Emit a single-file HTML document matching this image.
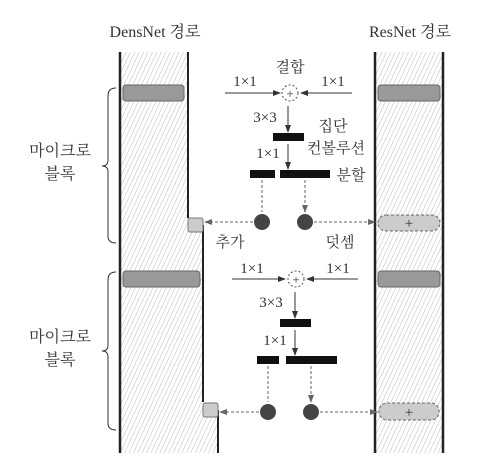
<!DOCTYPE html>
<html><head><meta charset="utf-8"><style>
body{margin:0;background:#fff}
svg{display:block;font-family:"Liberation Serif","Noto Serif CJK SC","Noto Sans CJK KR",serif}
text{fill:#333}
</style></head><body>
<svg width="485" height="469" viewBox="0 0 485 469">
<defs>
<pattern id="h" width="4" height="4" patternUnits="userSpaceOnUse" patternTransform="rotate(25)">
<line x1="0" y1="0" x2="0" y2="4" stroke="#aaa" stroke-width="0.8"/></pattern>
<marker id="a" markerWidth="8" markerHeight="8" refX="7" refY="4" orient="auto" markerUnits="userSpaceOnUse"><path d="M0,1 L8,4 L0,7z" fill="#333"/></marker>
<marker id="g" markerWidth="8" markerHeight="8" refX="7" refY="4" orient="auto" markerUnits="userSpaceOnUse"><path d="M0,1 L8,4 L0,7z" fill="#666"/></marker>
</defs>
<text x="155" y="37" font-size="16" text-anchor="middle">DensNet 경로</text>
<text x="410" y="37" font-size="16" text-anchor="middle">ResNet 경로</text>
<g>
<path d="M120,52 L188,52 L188,218 L203,218 L203,402 L218,402 L218,453 L120,453z" fill="url(#h)"/>
<line x1="120" y1="52" x2="120" y2="453" stroke="#222" stroke-width="2.5"/>
<path d="M188,52 L188,218 M203,225 L203,402 M218,410 L218,453" stroke="#222" stroke-width="2" fill="none"/>
<rect x="188" y="218" width="15" height="14" rx="2" fill="#ccc" stroke="#777"/>
<rect x="203" y="403" width="15" height="14" rx="2" fill="#ccc" stroke="#777"/>
<rect x="123" y="85" width="61" height="16" rx="3" fill="#999" stroke="#666"/>
<rect x="123" y="271" width="77" height="16" rx="3" fill="#999" stroke="#666"/>
</g>
<g>
<rect x="375" y="52" width="68" height="401" fill="url(#h)"/>
<line x1="375" y1="52" x2="375" y2="453" stroke="#222" stroke-width="2.5"/>
<line x1="443" y1="52" x2="443" y2="453" stroke="#222" stroke-width="2.5"/>
<rect x="378" y="85" width="62" height="16" rx="3" fill="#999" stroke="#666"/>
<rect x="378" y="271" width="62" height="16" rx="3" fill="#999" stroke="#666"/>
<rect x="378" y="215" width="62" height="16" rx="8" fill="#ccc" stroke="#666" stroke-dasharray="3,2"/>
<text x="409" y="228" font-size="15" text-anchor="middle">+</text>
<rect x="379" y="403" width="60" height="17" rx="8" fill="#ccc" stroke="#666" stroke-dasharray="3,2"/>
<text x="409" y="417" font-size="15" text-anchor="middle">+</text>
</g>
<g fill="none" stroke="#333">
<path d="M116,88 Q108,88 108,96 L108,160 Q108,166 102,166 Q108,166 108,172 L108,236 Q108,243 116,243"/>
<path d="M116,272 Q108,272 108,280 L108,345 Q108,351 102,351 Q108,351 108,357 L108,423 Q108,430 116,430"/>
</g>
<g font-size="16" text-anchor="middle">
<text x="60" y="156">마이크로</text><text x="60" y="179">블록</text>
<text x="60" y="342">마이크로</text><text x="60" y="365">블록</text>
</g>
<g font-size="15">
<text x="290" y="72" text-anchor="middle">결합</text>
<text x="245" y="86" text-anchor="middle">1×1</text>
<text x="333" y="86" text-anchor="middle">1×1</text>
<line x1="225" y1="93" x2="280" y2="93" stroke="#333" marker-end="url(#a)"/>
<line x1="352" y1="93" x2="301" y2="93" stroke="#333" marker-end="url(#a)"/>
<circle cx="290" cy="93" r="8" fill="none" stroke="#555" stroke-dasharray="2,2"/>
<text x="290" y="98" text-anchor="middle" font-size="13">+</text>
<text x="265" y="122" text-anchor="middle">3×3</text>
<line x1="288" y1="106" x2="288" y2="132" stroke="#333" marker-end="url(#a)"/>
<rect x="273" y="133" width="31" height="8" fill="#111"/>
<text x="333" y="131" text-anchor="middle">집단</text>
<text x="336" y="153" text-anchor="middle">컨볼루션</text>
<text x="268" y="158" text-anchor="middle">1×1</text>
<line x1="288" y1="144" x2="288" y2="169" stroke="#333" marker-end="url(#a)"/>
<rect x="250" y="170" width="25" height="8" fill="#111"/>
<rect x="280" y="170" width="50" height="8" fill="#111"/>
<text x="351" y="180" text-anchor="middle">분할</text>
<path d="M262,180 L262,212 M305,180 L305,212" stroke="#666" stroke-dasharray="3,2" marker-end="url(#g)"/>
<circle cx="262" cy="222" r="8" fill="#444"/>
<circle cx="305" cy="222" r="8" fill="#444"/>
<line x1="253" y1="222" x2="205" y2="222" stroke="#666" stroke-dasharray="3,2" marker-end="url(#g)"/>
<line x1="314" y1="222" x2="375" y2="222" stroke="#666" stroke-dasharray="3,2" marker-end="url(#g)"/>
<text x="230" y="247" text-anchor="middle">추가</text>
<text x="340" y="247" text-anchor="middle">덧셈</text>
</g>
<g font-size="15">
<text x="252" y="273" text-anchor="middle">1×1</text>
<text x="338" y="273" text-anchor="middle">1×1</text>
<line x1="232" y1="279" x2="285" y2="279" stroke="#333" marker-end="url(#a)"/>
<line x1="358" y1="279" x2="307" y2="279" stroke="#333" marker-end="url(#a)"/>
<circle cx="296" cy="279" r="8" fill="none" stroke="#555" stroke-dasharray="2,2"/>
<text x="296" y="284" text-anchor="middle" font-size="13">+</text>
<text x="271" y="307" text-anchor="middle">3×3</text>
<line x1="295" y1="292" x2="295" y2="318" stroke="#333" marker-end="url(#a)"/>
<rect x="280" y="319" width="31" height="8" fill="#111"/>
<text x="275" y="345" text-anchor="middle">1×1</text>
<line x1="295" y1="330" x2="295" y2="355" stroke="#333" marker-end="url(#a)"/>
<rect x="257" y="356" width="22" height="8" fill="#111"/>
<rect x="286" y="356" width="51" height="8" fill="#111"/>
<path d="M268,366 L268,402 M311,366 L311,402" stroke="#666" stroke-dasharray="3,2" marker-end="url(#g)"/>
<circle cx="268" cy="412" r="8" fill="#444"/>
<circle cx="311" cy="412" r="8" fill="#444"/>
<line x1="259" y1="412" x2="220" y2="412" stroke="#666" stroke-dasharray="3,2" marker-end="url(#g)"/>
<line x1="320" y1="412" x2="377" y2="412" stroke="#666" stroke-dasharray="3,2" marker-end="url(#g)"/>
</g>
</svg>
</body></html>
